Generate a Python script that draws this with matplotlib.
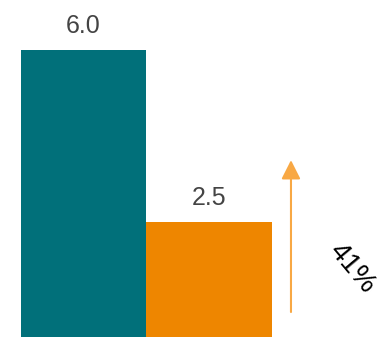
import matplotlib
matplotlib.use("Agg")
import matplotlib.pyplot as plt

categories = ["A", "B"]
values = [6.0, 2.5]
bar_colors = ["#01707a", "#ee8600"]
value_labels = ["6.0", "2.5"]
change_label = "41%"

plt.rcParams["font.family"] = ["Liberation Sans", "DejaVu Sans"]

fig = plt.figure(figsize=(3.85, 3.37), dpi=100)
ax = fig.add_axes([0, 0, 1, 1])
ax.set_xlim(-0.665, 2.402)
ax.set_ylim(0.163, 7.017)
ax.axis("off")

xs = list(range(len(categories)))
ax.bar(xs, values, width=1.0, color=bar_colors, linewidth=0)

for x, v, lab in zip(xs, values, value_labels):
    ax.annotate(lab, (x, v), xytext=(0, 12), textcoords="offset points",
                ha="center", va="baseline", fontsize=18, color="#444444")

# change arrow beside the bars
ax.annotate("", xy=(1.653, 3.76), xytext=(1.653, 0.671),
            arrowprops=dict(arrowstyle="-|>,head_length=1.15,head_width=0.58",
                            mutation_scale=10,
                            color="#f8a844", lw=1.5, shrinkA=0, shrinkB=0))

ax.text(2.139, 1.566, change_label, rotation=-50, rotation_mode="anchor",
        ha="center", va="center", fontsize=20.5, color="#000000")

fig.savefig("out.png", dpi=100)
